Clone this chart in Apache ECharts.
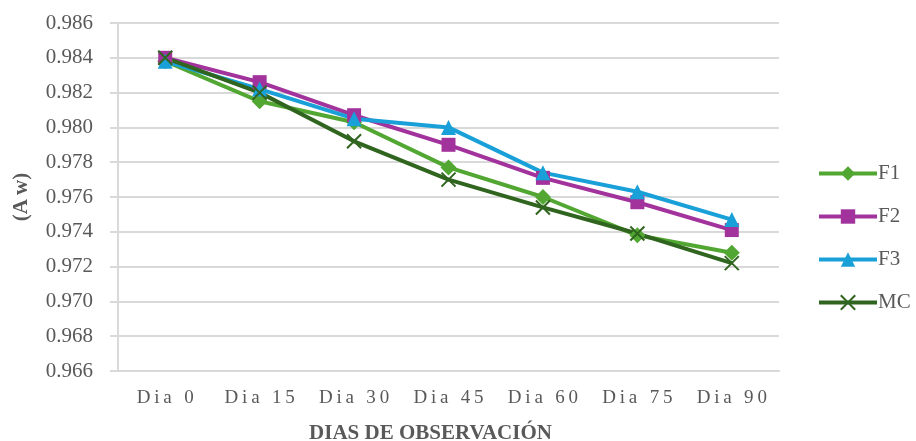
<!DOCTYPE html>
<html>
<head>
<meta charset="utf-8">
<script src="https://cdn.jsdelivr.net/npm/echarts@6/dist/echarts.min.js"></script>
<style>
  html, body { margin: 0; padding: 0; background: #fff; }
  #chart { width: 916px; height: 441px; }
</style>
</head>
<body>
<div id="chart"></div>
<script>
// Water activity (Aw) over the observation period
const categories = ['Dia 0', 'Dia 15', 'Dia 30', 'Dia 45', 'Dia 60', 'Dia 75', 'Dia 90'];
const f1 = [0.9838, 0.9815, 0.9803, 0.9777, 0.9760, 0.9738, 0.9728];
const f2 = [0.9840, 0.9826, 0.9807, 0.9790, 0.9771, 0.9757, 0.9741];
const f3 = [0.9838, 0.9822, 0.9805, 0.9800, 0.9774, 0.9763, 0.9747];
const mc = [0.9840, 0.9820, 0.9792, 0.9770, 0.9754, 0.9739, 0.9722];
const yMin = 0.966, yMax = 0.986, yStep = 0.002;

const serif = '"Liberation Serif", "DejaVu Serif", serif';
const spaced = s => s.split('').join('\u2009');

function lineSeries(name, data, color, symbol, extra) {
  return Object.assign({
    name, type: 'line', data,
    symbol, symbolSize: 14,
    lineStyle: { color, width: 4 },
    itemStyle: { color },
    emphasis: { disabled: true }
  }, extra || {});
}

const chart = echarts.init(document.getElementById('chart'));
chart.setOption({
  animation: false,
  grid: { left: 118, right: 137, top: 23, bottom: 70, outerBoundsMode: 'none' },
  legend: {
    orient: 'vertical', left: 812, top: 158,
    itemWidth: 58, itemHeight: 18, itemGap: 22,
    lineStyle: { width: 4 },
    textStyle: { fontFamily: serif, fontSize: 21, color: '#595959', padding: [0, 0, 0, -4] },
    data: ['F1', 'F2', 'F3', 'MC']
  },
  xAxis: {
    type: 'category', data: categories,
    axisLine: { lineStyle: { color: '#d9d9d9', width: 2 } },
    axisTick: { show: false },
    axisLabel: {
      margin: 18, fontFamily: serif, fontSize: 19, color: '#595959',
      formatter: v => spaced(v)
    },
    name: 'DIAS DE OBSERVACIÓN', nameLocation: 'middle', nameGap: 52,
    nameTextStyle: { fontFamily: serif, fontSize: 21, fontWeight: 'bold', color: '#595959', padding: [0, 36, 0, 0] }
  },
  yAxis: {
    type: 'value', min: yMin, max: yMax, interval: yStep,
    axisLine: { show: true, lineStyle: { color: '#d9d9d9', width: 2 } },
    axisTick: { show: true, length: 8, lineStyle: { color: '#d9d9d9', width: 2 } },
    splitLine: { lineStyle: { color: '#d9d9d9', width: 2 } },
    axisLabel: {
      margin: 25, fontFamily: serif, fontSize: 21, color: '#595959',
      formatter: v => v.toFixed(3)
    },
    name: '(A\u2009w)', nameLocation: 'middle', nameGap: 86, nameRotate: 90,
    nameTextStyle: { fontFamily: serif, fontSize: 21, fontWeight: 'bold', color: '#595959' }
  },
  series: [
    lineSeries('F1', f1, '#52a733', 'diamond', { symbolSize: 16 }),
    lineSeries('F2', f2, '#a2329c', 'rect'),
    lineSeries('F3', f3, '#19a0d8', 'triangle', { symbolSize: 15 }),
    lineSeries('MC', mc, '#30651f', 'path://M0,0L10,10M10,0L0,10', {
      symbolSize: 14,
      itemStyle: { color: 'none', borderColor: '#30651f', borderWidth: 2 }
    })
  ]
});
</script>
</body>
</html>
